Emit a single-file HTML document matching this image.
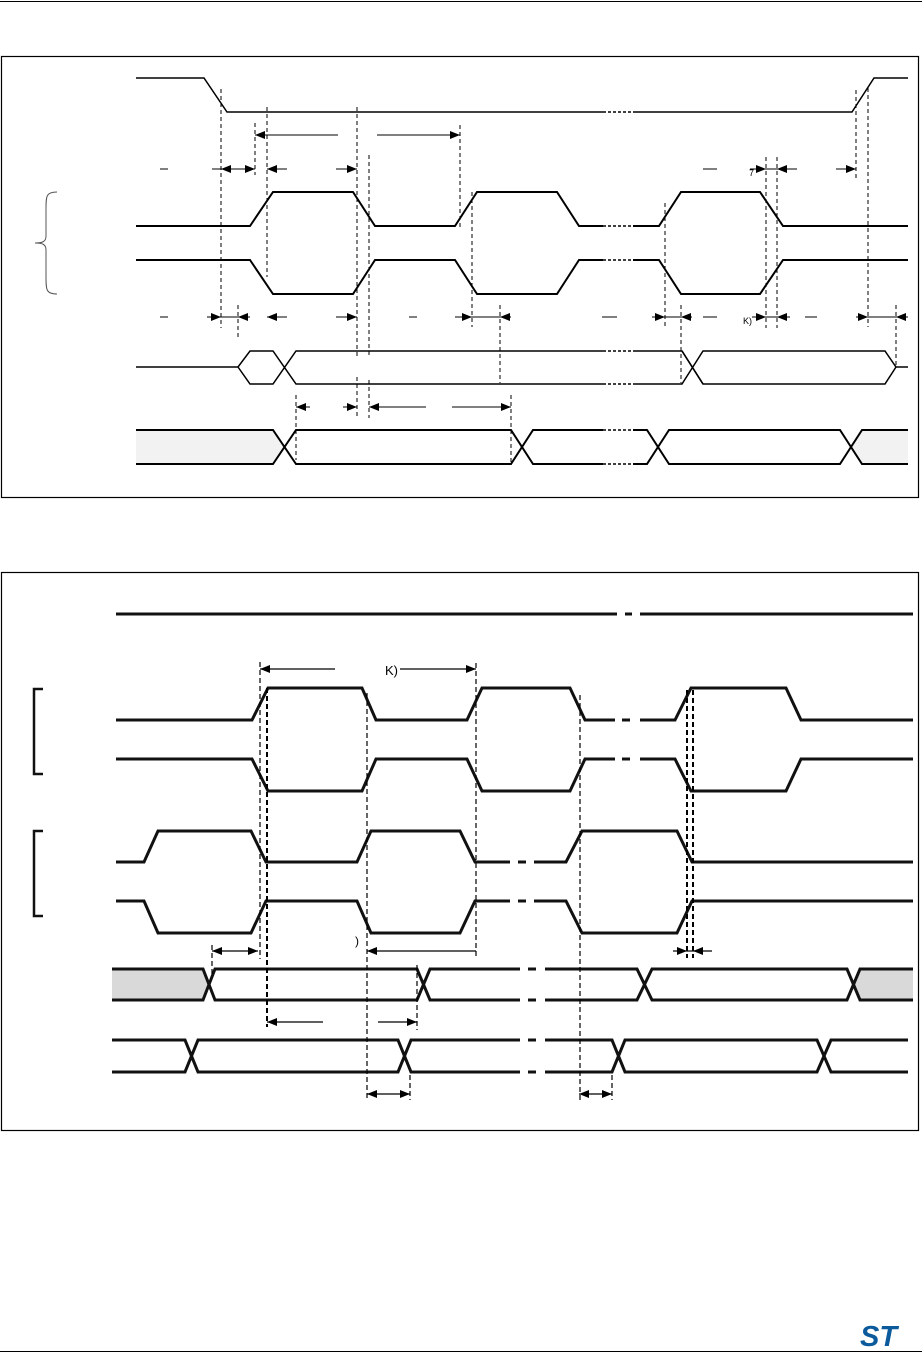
<!DOCTYPE html>
<html><head><meta charset="utf-8"><style>
html,body{margin:0;padding:0;background:#fff;width:922px;height:1361px;overflow:hidden}
svg{display:block}
</style></head><body>
<svg width="922" height="1361" viewBox="0 0 922 1361" xmlns="http://www.w3.org/2000/svg" font-family="Liberation Sans, sans-serif">
<defs>
<marker id="a" viewBox="0 0 10 8" refX="10" refY="4" markerWidth="10" markerHeight="8" markerUnits="userSpaceOnUse" orient="auto-start-reverse"><path d="M0,0L10,4L0,8z" fill="#000"/></marker>
</defs>
<line x1="0" y1="1.5" x2="922" y2="1.5" stroke="#000" stroke-width="1"/>
<line x1="0" y1="1351.5" x2="922" y2="1351.5" stroke="#000" stroke-width="1"/>
<text x="860" y="1346" font-size="29" font-weight="bold" font-style="italic" fill="#0a5a9c">ST</text>

<!-- ===== Diagram 1 ===== -->
<rect x="1.5" y="56.5" width="917" height="441" fill="none" stroke="#000" stroke-width="1.2"/>
<g fill="none" stroke="#000" stroke-width="1.5">
<path d="M136,78H204L227,112H603M633,112H852L874,78H908"/>
<path d="M603,112H633" stroke-dasharray="3,2"/>
</g>
<g fill="none" stroke="#000" stroke-width="2">
<path d="M136,226H250L273,192H353L375,226H455L477,192H557L579,226H603M633,226H659L681,192H760L783,226H908"/>
<path d="M136,260H250L273,294H353L375,260H455L477,294H557L579,260H603M633,260H659L681,294H760L783,260H908"/>
<path d="M603,226H633M603,260H633" stroke-dasharray="3,2" stroke-width="1.5"/>
</g>
<path d="M57,192C46,192 46,196 46,210V236C46,242 42,243 35,243C42,243 46,244 46,250V276C46,290 46,294 57,294" fill="none" stroke="#555" stroke-width="1"/>
<g fill="none" stroke="#000" stroke-width="1.5">
<path d="M136,367H238L250,351H273L296,384H603M633,384H682L703,351H885L896,367H908"/>
<path d="M238,367L250,384H273L296,351H603M633,351H682L703,384H885L896,367"/>
<path d="M603,351H633M603,384H633" stroke-dasharray="3,2"/>
<path d="M682,351L703,384"/>
</g>
<path d="M136,430H273L284,447L273,464H136Z" fill="#f2f2f2"/>
<path d="M908,430H862L851,447L862,464H908Z" fill="#f2f2f2"/>
<g fill="none" stroke="#000" stroke-width="2">
<path d="M136,430H273L296,464H511L533,430H603M633,430H647L669,464H840L862,430H908"/>
<path d="M136,464H273L296,430H511L533,464H603M633,464H647L669,430H840L862,464H908"/>
<path d="M603,430H633M603,464H633" stroke-dasharray="3,2" stroke-width="1.5"/>
</g>
<g stroke="#000" stroke-width="1" stroke-dasharray="4,3" fill="none">
<path d="M221,89V328M255,123V175M267,107V277M357,107V358M357,377V418M369,155V358M369,380V418M296,395V460M238,305V340"/>
<path d="M460,125V227M472,192V327M500,305V383M511,395V462M665,203V327M681,305V383M766,157V328M777,157V328M856,90V180M868,88V327M896,305V365"/>
</g>
<g stroke="#000" stroke-width="1" fill="none">
<line x1="255" y1="135" x2="338" y2="135" marker-start="url(#a)"/>
<line x1="377" y1="135" x2="460" y2="135" marker-end="url(#a)"/>
<path d="M160,169H168M212,169H221"/>
<line x1="221" y1="169" x2="238" y2="169" marker-start="url(#a)"/>
<line x1="238" y1="169" x2="255" y2="169" marker-end="url(#a)"/>
<line x1="267" y1="169" x2="287" y2="169" marker-start="url(#a)"/>
<line x1="336" y1="169" x2="357" y2="169" marker-end="url(#a)"/>
<path d="M703,169H717"/>
<line x1="750" y1="169" x2="766" y2="169" marker-end="url(#a)"/>
<line x1="766" y1="169" x2="777" y2="169"/>
<line x1="777" y1="169" x2="797" y2="169" marker-start="url(#a)"/>
<line x1="836" y1="169" x2="856" y2="169" marker-end="url(#a)"/>
<path d="M160,317H168M409,317H417M602,317H617M703,317H717M805,317H817"/>
<line x1="207" y1="317" x2="221" y2="317" marker-end="url(#a)"/>
<line x1="221" y1="317" x2="238" y2="317"/>
<line x1="238" y1="317" x2="250" y2="317" marker-start="url(#a)"/>
<line x1="267" y1="317" x2="287" y2="317" marker-start="url(#a)"/>
<line x1="336" y1="317" x2="357" y2="317" marker-end="url(#a)"/>
<line x1="455" y1="317" x2="472" y2="317" marker-end="url(#a)"/>
<line x1="472" y1="317" x2="500" y2="317"/>
<line x1="500" y1="317" x2="511" y2="317" marker-start="url(#a)"/>
<line x1="652" y1="317" x2="665" y2="317" marker-end="url(#a)"/>
<line x1="665" y1="317" x2="681" y2="317"/>
<line x1="681" y1="317" x2="692" y2="317" marker-start="url(#a)"/>
<line x1="752" y1="317" x2="766" y2="317" marker-end="url(#a)"/>
<line x1="766" y1="317" x2="777" y2="317"/>
<line x1="777" y1="317" x2="790" y2="317" marker-start="url(#a)"/>
<line x1="856" y1="317" x2="868" y2="317" marker-end="url(#a)"/>
<line x1="868" y1="317" x2="896" y2="317"/>
<line x1="896" y1="317" x2="908" y2="317" marker-start="url(#a)"/>
<line x1="296" y1="407" x2="310" y2="407" marker-start="url(#a)"/>
<line x1="343" y1="407" x2="357" y2="407" marker-end="url(#a)"/>
<line x1="369" y1="407" x2="426" y2="407" marker-start="url(#a)"/>
<line x1="452" y1="407" x2="511" y2="407" marker-end="url(#a)"/>
</g>
<text x="743" y="324" font-size="9">K)</text>
<text x="749" y="176" font-size="9">7</text>

<!-- ===== Diagram 2 ===== -->
<rect x="1.5" y="572.5" width="917" height="558" fill="none" stroke="#000" stroke-width="1.2"/>
<g fill="none" stroke="#111" stroke-width="3">
<path d="M116,614H617M625,614H632M640,614H913"/>
<path d="M116,720H252L268,688H362L376,720H467L482,688H570L585,720H615M622,720H630M640,720H675L691,688H786L801,720H913"/>
<path d="M116,759H252L268,791H362L376,759H467L482,791H570L585,759H615M622,759H630M640,759H675L691,791H786L801,759H913"/>
<path d="M116,862H144L158,831H251L266,862H357L371,831H460L475,862H510M518,862H526M534,862H566L582,831H677L692,862H913"/>
<path d="M116,901H144L158,933H251L266,901H357L371,933H460L475,901H510M518,901H526M534,901H566L582,933H677L692,901H913"/>
<path d="M43,689H34V774H43M43,831H34V916H43" stroke-width="2.5"/>
</g>
<path d="M112,969H203L209,984L203,1000H112Z" fill="#d9d9d9"/>
<path d="M913,969H860L854,984L860,1000H913Z" fill="#d9d9d9"/>
<g fill="none" stroke="#111" stroke-width="3">
<path d="M112,969H203L215,1000H417L430,969H520M528,969H536M545,969H637L652,1000H847L860,969H913"/>
<path d="M112,1000H203L215,969H417L430,1000H520M528,1000H536M545,1000H637L652,969H847L860,1000H913"/>
<path d="M112,1040H185L198,1072H398L411,1040H520M528,1040H536M545,1040H612L625,1072H817L831,1040H908"/>
<path d="M112,1072H185L198,1040H398L411,1072H520M528,1072H536M545,1072H612L625,1040H817L831,1072H908"/>
</g>
<g stroke="#000" stroke-width="1.2" stroke-dasharray="5,3" fill="none">
<path d="M260,662V959M476,663V959M367,693V1100M580,695V1100M417,965V1030M212,945V975M410,1075V1100M612,1075V1100"/>
<path d="M267,688V1027M687,690V958M693,690V958" stroke-width="2"/>
</g>
<g stroke="#000" stroke-width="1.2" fill="none">
<line x1="260" y1="669" x2="335" y2="669" marker-start="url(#a)"/>
<line x1="400" y1="669" x2="476" y2="669" marker-end="url(#a)"/>
<line x1="212" y1="951" x2="258" y2="951" marker-start="url(#a)" marker-end="url(#a)"/>
<line x1="367" y1="951" x2="476" y2="951" marker-start="url(#a)"/>
<line x1="673" y1="951" x2="687" y2="951" marker-end="url(#a)"/>
<line x1="687" y1="951" x2="693" y2="951"/>
<line x1="693" y1="951" x2="712" y2="951" marker-start="url(#a)"/>
<line x1="267" y1="1022" x2="323" y2="1022" marker-start="url(#a)"/>
<line x1="378" y1="1022" x2="417" y2="1022" marker-end="url(#a)"/>
<line x1="367" y1="1094" x2="410" y2="1094" marker-start="url(#a)" marker-end="url(#a)"/>
<line x1="579" y1="1094" x2="612" y2="1094" marker-start="url(#a)" marker-end="url(#a)"/>
</g>
<text x="385" y="675" font-size="13">K)</text>
<text x="355" y="945" font-size="12">)</text>
</svg>
</body></html>
